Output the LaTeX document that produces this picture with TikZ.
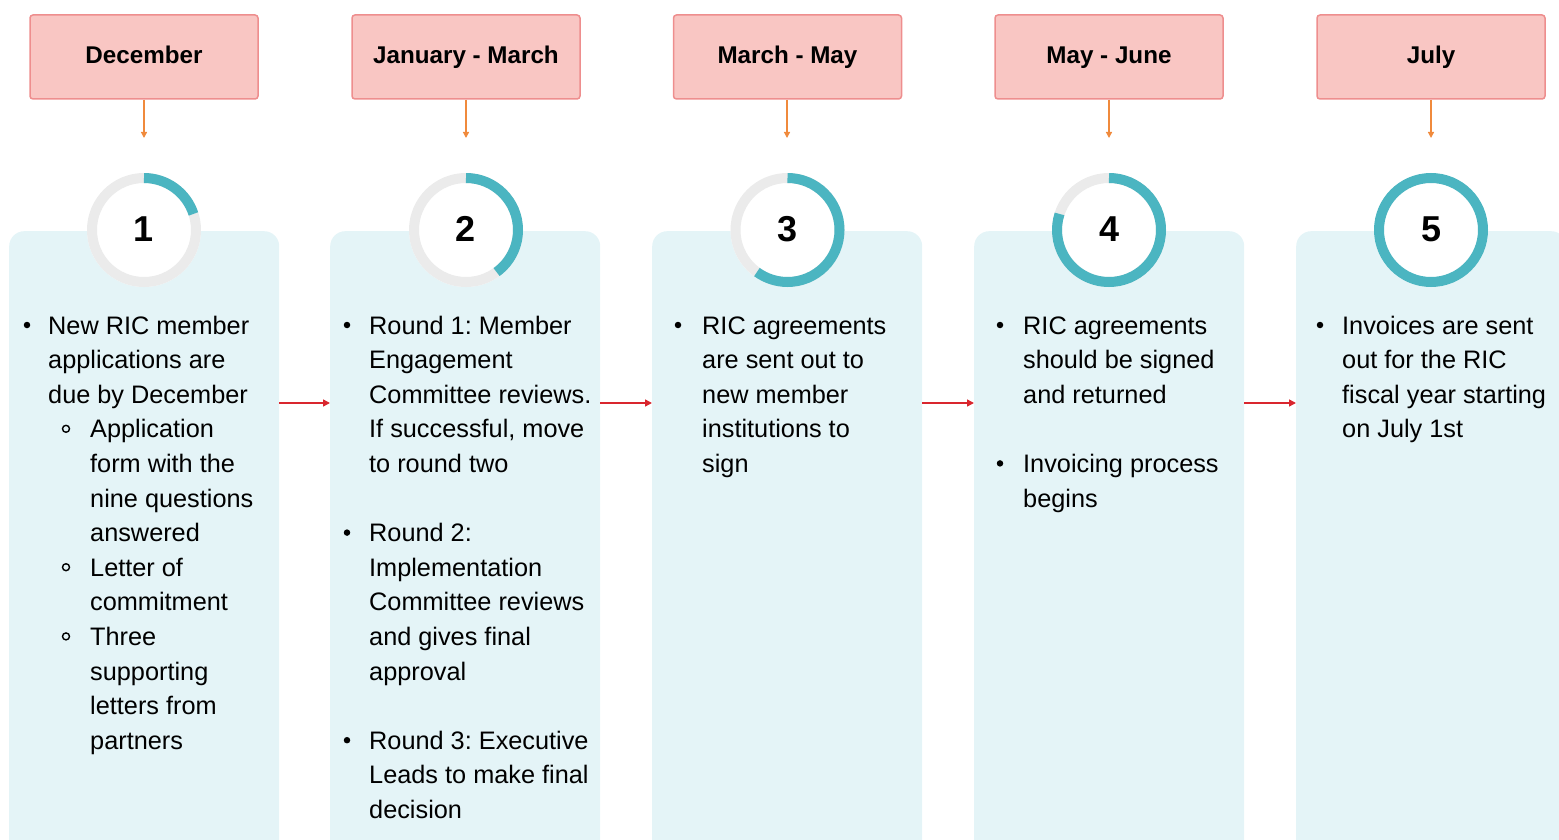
\documentclass[tikz,border=0pt]{standalone}
\usepackage{fontspec}
\setmainfont{Liberation Sans}
\usetikzlibrary{arrows.meta}
\frenchspacing
\definecolor{hdrfill}{HTML}{F9C6C3}
\definecolor{hdrdraw}{HTML}{EE8E8E}
\definecolor{panelfill}{HTML}{E4F4F7}
\definecolor{ringgray}{HTML}{EBEBEB}
\definecolor{ringteal}{HTML}{4BB5C1}
\definecolor{orangearr}{HTML}{F08A3C}
\definecolor{redarr}{HTML}{D9262E}
\begin{document}
\begin{tikzpicture}[x=1pt,y=1pt,
  hdr/.style={draw=hdrdraw, fill=hdrfill, line width=1.5pt, rounded corners=3pt,
    minimum width=228pt, minimum height=84pt, inner sep=0,
    text height=17.5pt, text depth=4.5pt,
    font=\fontsize{24.2}{28}\selectfont\bfseries},
  panel/.style={fill=panelfill, rounded corners=15pt, minimum width=270pt,
    minimum height=700pt, anchor=north west, inner sep=0},
  num/.style={circle, fill=white, minimum size=114pt, inner sep=0,
    font=\fontsize{36}{40}\selectfont\bfseries},
  ring/.style={ringgray, line width=10pt},
  prog/.style={ringteal, line width=10pt},
  downarr/.style={orangearr, line width=1.3pt, -{Triangle[length=6pt,width=6pt]}},
  nextarr/.style={redarr, line width=1.5pt, -{Triangle[length=7pt,width=7pt]}},
  txt/.style={anchor=base west, inner sep=0, font=\fontsize{25.3}{34.6}\selectfont},
  dot/.style={circle, fill=black, inner sep=0, minimum size=6.5pt},
  odot/.style={circle, draw=black, line width=1.4pt, inner sep=0, minimum size=7pt},
]
\path[use as bounding box] (0,0) rectangle (1559,-840);
\clip (0,0) rectangle (1559,-840);

% panels
\node[panel] (p1) at (9,-231) {};
\node[panel] (p2) at (330,-231) {};
\node[panel] (p3) at (652,-231) {};
\node[panel] (p4) at (974,-231) {};
\node[panel] (p5) at (1296,-231) {};

% headers
\node[hdr] (h1) at (144,-57) {December};
\node[hdr] (h2) at (466,-57) {January - March};
\node[hdr] (h3) at (787.5,-57) {March - May};
\node[hdr] (h4) at (1109,-57) {May - June};
\node[hdr] (h5) at (1431,-57) {July};

% arrow ends
\coordinate (e1) at (144,-138);
\coordinate (e2) at (466,-138);
\coordinate (e3) at (787,-138);
\coordinate (e4) at (1109,-138);
\coordinate (e5) at (1431,-138);
\draw[downarr] (h1.south) -- (e1);
\draw[downarr] (h2.south) -- (e2);
\draw[downarr] (h3.south -| e3) -- (e3);
\draw[downarr] (h4.south) -- (e4);
\draw[downarr] (h5.south) -- (e5);

% number circles
\node[num] (c1) at (144,-230) {\raisebox{2pt}{1}};
\node[num] (c2) at (466,-230) {\raisebox{2pt}{2}};
\node[num] (c3) at (787.5,-230) {\raisebox{2pt}{3}};
\node[num] (c4) at (1109,-230) {\raisebox{2pt}{4}};
\node[num] (c5) at (1431,-230) {\raisebox{2pt}{5}};
\foreach \c/\e in {c1/18, c2/-54, c3/-126, c4/-198}{
  \draw[ring] (\c.center) circle[radius=52];
  \draw[prog] ([shift={(90:52)}]\c.center) arc[start angle=90, end angle=\e, radius=52];
}
\draw[prog] (c5.center) circle[radius=52];

% arrows between panels
\draw[nextarr] (p1.north east |- 0,-403) -- (p2.north west |- 0,-403);
\draw[nextarr] (p2.north east |- 0,-403) -- (p3.north west |- 0,-403);
\draw[nextarr] (p3.north east |- 0,-403) -- (p4.north west |- 0,-403);
\draw[nextarr] (p4.north east |- 0,-403) -- (p5.north west |- 0,-403);

% panel 1 text
\node[dot] (b11) at (27,-325) {};
\foreach \t [count=\i from 0] in {New RIC member, applications are, due by December}
  \node[txt] (ta\i) at (48,{-334-34.6*\i}) {\t};
\node[odot] (s11) at (66,{-325-34.6*3}) {};
\foreach \t [count=\i from 3] in {Application, form with the, nine questions, answered}
  \node[txt] (ta\i) at (90,{-334-34.6*\i}) {\t};
\node[odot] (s12) at (66,{-325-34.6*7}) {};
\foreach \t [count=\i from 7] in {Letter of, commitment}
  \node[txt] (ta\i) at (90,{-334-34.6*\i}) {\t};
\node[odot] (s13) at (66,{-325-34.6*9}) {};
\foreach \t [count=\i from 9] in {Three, supporting, letters from, partners}
  \node[txt] (ta\i) at (90,{-334-34.6*\i}) {\t};

% panel 2 text
\node[dot] (b21) at (347,-325) {};
\foreach \t [count=\i from 0] in {Round 1: Member, Engagement, Committee reviews., {If successful, move}, to round two}
  \node[txt] (tb\i) at (369,{-334-34.6*\i}) {\t};
\node[dot] (b22) at (347,{-325-34.6*6}) {};
\foreach \t [count=\i from 6] in {Round 2:, Implementation, Committee reviews, and gives final, approval}
  \node[txt] (tb\i) at (369,{-334-34.6*\i}) {\t};
\node[dot] (b23) at (347,{-325-34.6*12}) {};
\foreach \t [count=\i from 12] in {Round 3: Executive, Leads to make final, decision}
  \node[txt] (tb\i) at (369,{-334-34.6*\i}) {\t};

% panel 3 text
\node[dot] (b31) at (678,-325) {};
\foreach \t [count=\i from 0] in {RIC agreements, are sent out to, new member, institutions to, sign}
  \node[txt] (tc\i) at (702,{-334-34.6*\i}) {\t};

% panel 4 text
\node[dot] (b41) at (1000,-325) {};
\foreach \t [count=\i from 0] in {RIC agreements, should be signed, and returned}
  \node[txt] (td\i) at (1023,{-334-34.6*\i}) {\t};
\node[dot] (b42) at (1000,{-325-34.6*4}) {};
\foreach \t [count=\i from 4] in {Invoicing process, begins}
  \node[txt] (td\i) at (1023,{-334-34.6*\i}) {\t};

% panel 5 text
\node[dot] (b51) at (1320,-325) {};
\foreach \t [count=\i from 0] in {Invoices are sent, out for the RIC, fiscal year starting, on July 1st}
  \node[txt] (te\i) at (1342,{-334-34.6*\i}) {\t};
\end{tikzpicture}
\end{document}
